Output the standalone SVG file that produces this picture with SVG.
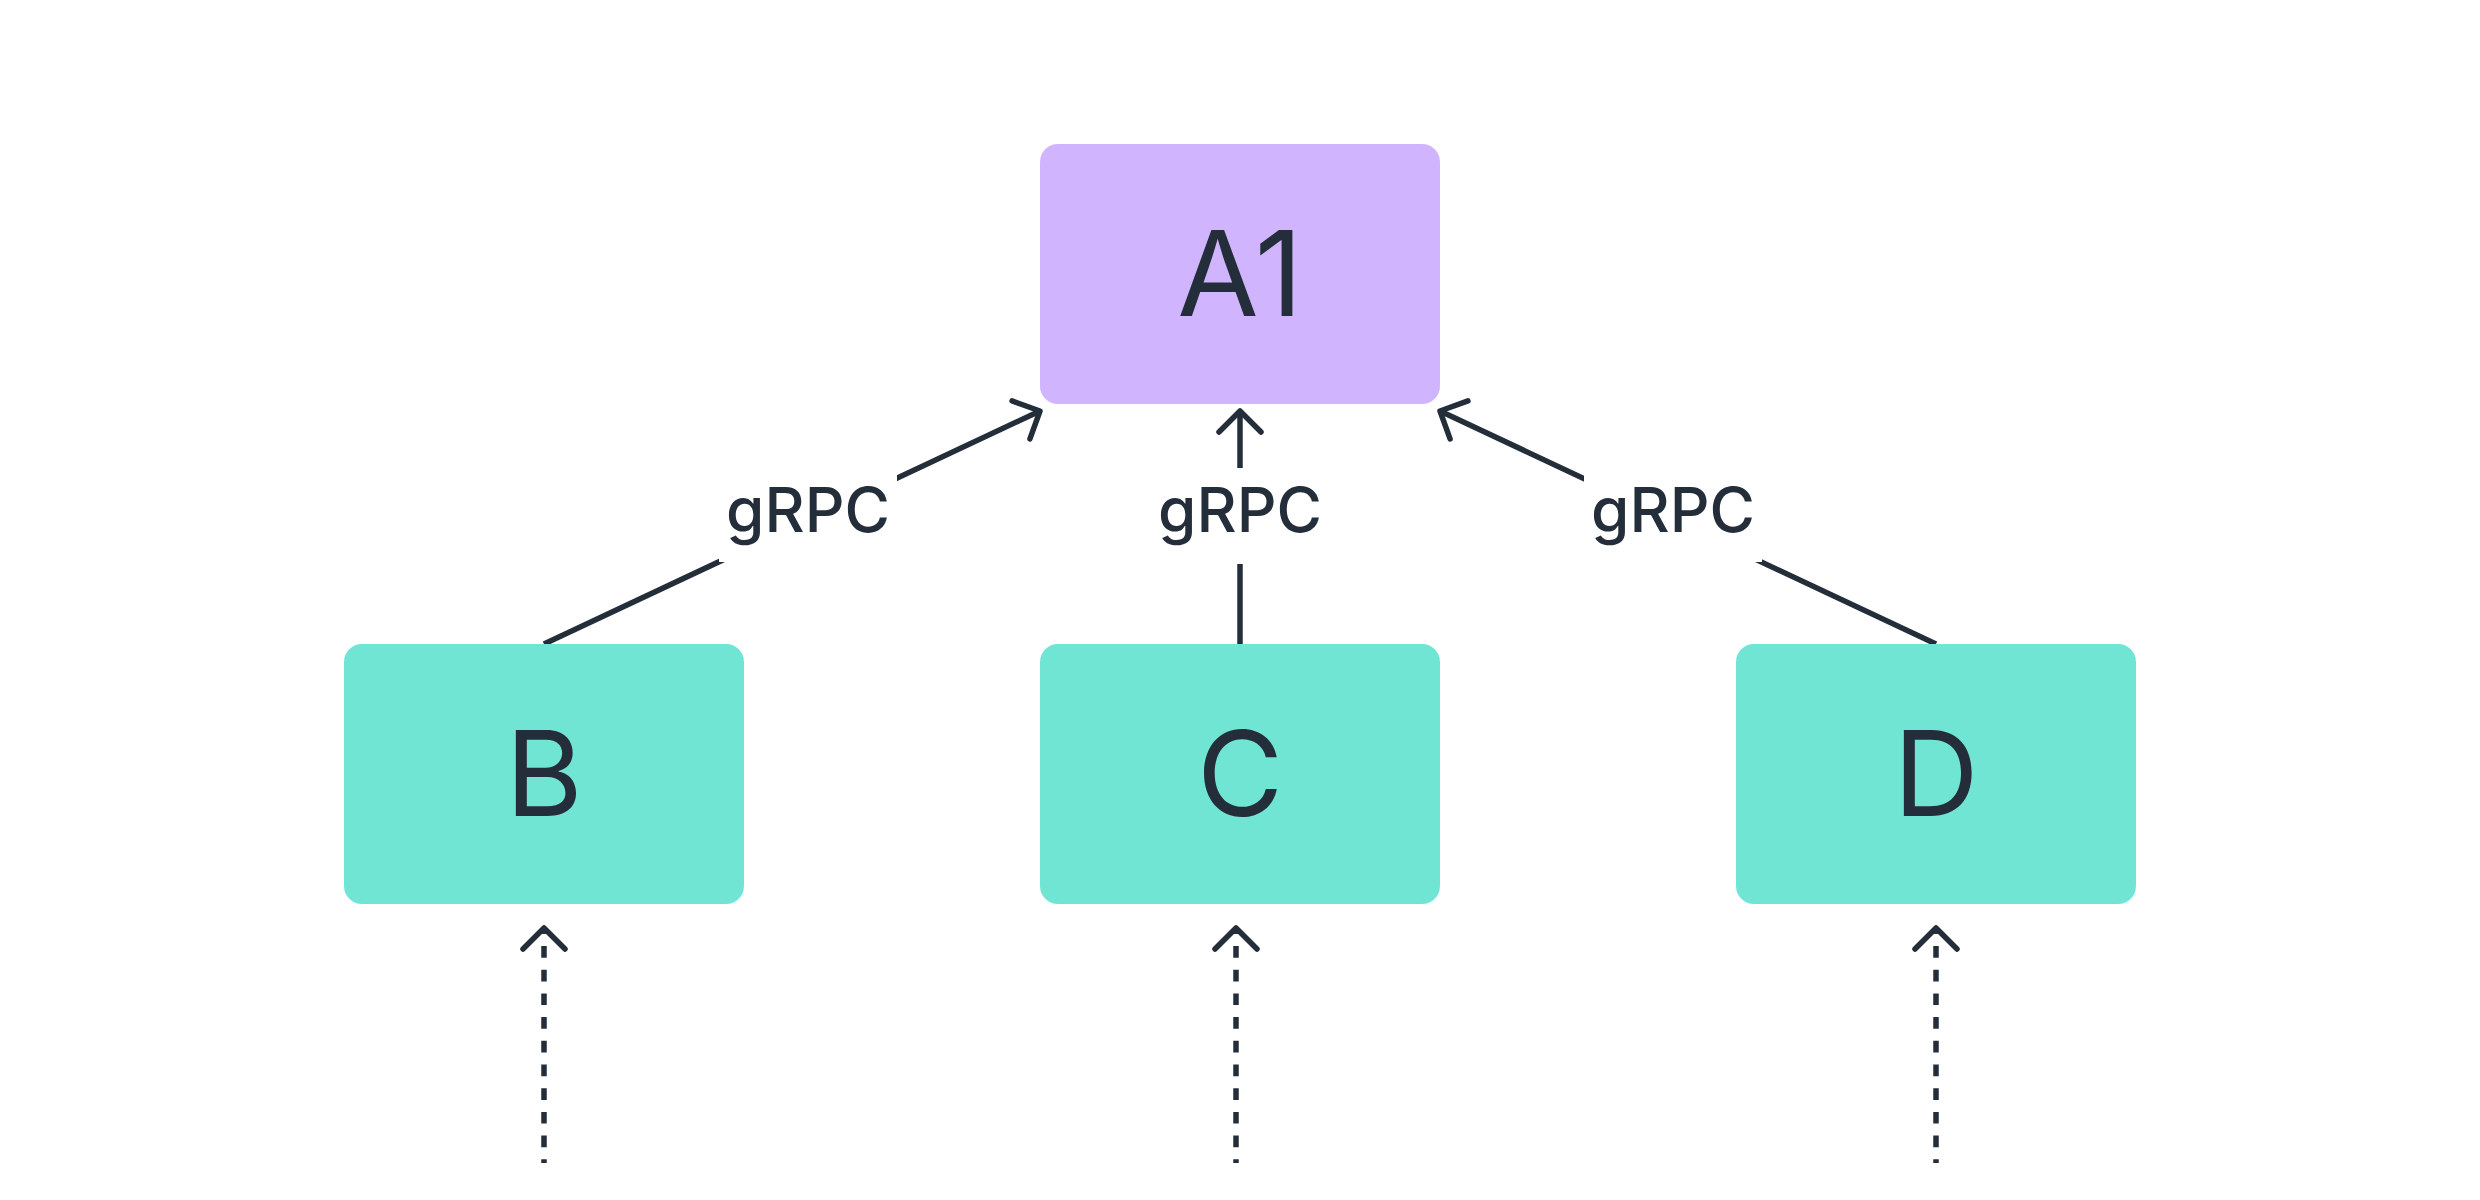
<svg xmlns="http://www.w3.org/2000/svg" width="2480" height="1200" viewBox="0 0 2480 1200">
  <style>
    .a1 { fill: #D1B4FE; }
    .leaf { fill: #71E5D3; }
    .name { font-family: Inter, "Liberation Sans", sans-serif; font-size: 118px; font-weight: 400; fill: #242E3A; text-anchor: middle; }
    .lbl { font-family: Inter, "Liberation Sans", sans-serif; font-size: 62px; font-weight: 500; fill: #242E3A; text-anchor: middle; }
    .conn { stroke: #242E3A; stroke-width: 5.5; fill: none; }
    .dash { stroke-dasharray: 11.7 12; stroke-dashoffset: 5.7; }
    .lblbg { fill: #FFFFFF; }
  </style>
  <defs>
    <marker id="head" markerUnits="userSpaceOnUse" markerWidth="60" markerHeight="60" refX="0" refY="0" viewBox="-30 -30 60 60" orient="auto-start-reverse" overflow="visible">
      <path d="M-21,-21 L0,0 L-21,21" fill="none" stroke="#242E3A" stroke-width="5.5" stroke-linecap="round" stroke-linejoin="round" stroke-dasharray="none"/>
    </marker>
  </defs>
  <rect width="2480" height="1200" fill="#FFFFFF"/>

  <g id="connectors">
    <line class="conn" x1="544" y1="644" x2="1040" y2="411" marker-end="url(#head)"/>
    <line class="conn" x1="1240" y1="644" x2="1240" y2="411" marker-end="url(#head)"/>
    <line class="conn" x1="1936" y1="644" x2="1440" y2="411" marker-end="url(#head)"/>
    <rect class="lblbg" x="719" y="468" width="178" height="94"/>
    <rect class="lblbg" x="1151" y="468" width="178" height="96"/>
    <rect class="lblbg" x="1584" y="468" width="178" height="94"/>
    <text class="lbl" x="808" y="532">gRPC</text>
    <text class="lbl" x="1240" y="532">gRPC</text>
    <text class="lbl" x="1673" y="532">gRPC</text>
    <line class="conn dash" x1="544" y1="928" x2="544" y2="1163" marker-start="url(#head)"/>
    <line class="conn dash" x1="1236" y1="928" x2="1236" y2="1163" marker-start="url(#head)"/>
    <line class="conn dash" x1="1936" y1="928" x2="1936" y2="1163" marker-start="url(#head)"/>
  </g>

  <g id="node-A1">
    <rect class="a1" x="1040" y="144" width="400" height="260" rx="18"/>
    <text class="name" x="1240" y="316">A1</text>
  </g>
  <g id="node-B">
    <rect class="leaf" x="344" y="644" width="400" height="260" rx="18"/>
    <text class="name" x="544" y="816">B</text>
  </g>
  <g id="node-C">
    <rect class="leaf" x="1040" y="644" width="400" height="260" rx="18"/>
    <text class="name" x="1240" y="816">C</text>
  </g>
  <g id="node-D">
    <rect class="leaf" x="1736" y="644" width="400" height="260" rx="18"/>
    <text class="name" x="1936" y="816">D</text>
  </g>
</svg>
